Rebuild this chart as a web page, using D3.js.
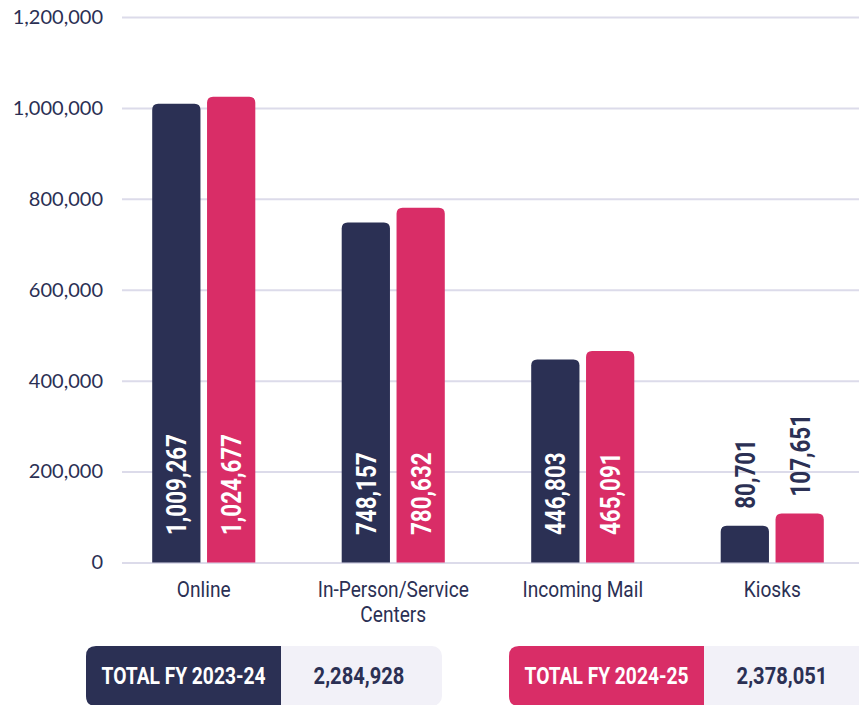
<!DOCTYPE html>
<html>
<head>
<meta charset="utf-8">
<script src="https://cdn.jsdelivr.net/npm/d3@7"></script>
<style>
  body { margin: 0; background: #fff; }
  svg { display: block; }
  .cond { font-family: Roboto, "Liberation Sans", sans-serif; }
</style>
</head>
<body>
<div id="chart"></div>
<script>
var categories = ["Online", "In-Person/Service Centers", "Incoming Mail", "Kiosks"];
var seriesNames = ["FY 2023-24", "FY 2024-25"];
var fy2324 = [1009267, 748157, 446803, 80701];
var fy2425 = [1024677, 780632, 465091, 107651];
var yTicks = [0, 200000, 400000, 600000, 800000, 1000000, 1200000];
var colors = ["#2b3054", "#d92d67"];

var W = 859, H = 705;
var navy = "#2b3054";
var fmt = d3.format(",");
var squeeze = 0.8;      // narrow look for bold labels
var squeezeReg = 0.87;  // narrow look for category labels

var svg = d3.select("#chart").append("svg")
  .attr("width", W)
  .attr("height", H);

var y = d3.scaleLinear().domain([0, 1200000]).range([562.5, 17]);

var x = d3.scaleBand().domain(categories)
  .range([109, 867])
  .paddingInner(0.456)
  .paddingOuter(0.228);

var xs = d3.scaleBand().domain(seriesNames)
  .range([0, x.bandwidth()])
  .paddingInner(0.12);

// grid + y labels
var axis = svg.append("g")
  .attr("transform", "translate(122,0)")
  .call(d3.axisLeft(y).tickValues(yTicks).tickSize(-(W - 122)).tickPadding(19).tickFormat(fmt));
axis.select(".domain").remove();
axis.selectAll(".tick line").attr("stroke", "#dcdbea").attr("stroke-width", 2);
axis.selectAll(".tick text")
  .attr("fill", navy)
  .style("font-family", "Lato, sans-serif")
  .style("font-size", "20px");

var rows = categories.map(function(c, i) {
  return { cat: c, vals: [fy2324[i], fy2425[i]] };
});

function topRounded(x0, y0, w, h, r) {
  r = Math.min(r, h);
  return "M" + x0 + "," + (y0 + h) +
    "V" + (y0 + r) +
    "Q" + x0 + "," + y0 + " " + (x0 + r) + "," + y0 +
    "H" + (x0 + w - r) +
    "Q" + (x0 + w) + "," + y0 + " " + (x0 + w) + "," + (y0 + r) +
    "V" + (y0 + h) + "Z";
}

var groups = svg.selectAll(".grp")
  .data(rows)
  .enter().append("g")
  .attr("class", "grp")
  .attr("transform", function(d) { return "translate(" + x(d.cat) + ",0)"; });

var bars = groups.selectAll(".bar")
  .data(function(d) {
    return d.vals.map(function(v, j) { return { s: seriesNames[j], v: v, j: j }; });
  })
  .enter().append("g");

bars.append("path")
  .attr("fill", function(d) { return colors[d.j]; })
  .attr("d", function(d) {
    return topRounded(xs(d.s), y(d.v), xs.bandwidth(), y(0) - y(d.v), 6);
  });

function isInside(d) { return (y(0) - y(d.v)) > 140; }

// value labels, rotated
bars.append("g")
  .attr("transform", function(d) {
    var cx = xs(d.s) + xs.bandwidth() / 2;
    var ty = isInside(d) ? 535 : y(d.v) - 17;
    return "translate(" + cx + "," + ty + ") rotate(-90) scale(" + squeeze + ",1)";
  })
  .append("text")
  .attr("class", "cond")
  .attr("dy", "0.36em")
  .attr("fill", function(d) { return isInside(d) ? "#fff" : navy; })
  .style("font-size", "28px")
  .style("font-weight", "bold")
  .text(function(d) { return fmt(d.v); });

// category labels
groups.append("g")
  .attr("transform", "translate(" + (x.bandwidth() / 2) + ",597) scale(" + squeezeReg + ",1)")
  .append("text")
  .attr("class", "cond")
  .attr("text-anchor", "middle")
  .attr("fill", navy)
  .style("font-size", "22px")
  .each(function(d) {
    var t = d3.select(this);
    var parts = d.cat === "In-Person/Service Centers" ? ["In-Person/Service", "Centers"] : [d.cat];
    parts.forEach(function(p, k) {
      t.append("tspan").attr("x", 0).attr("dy", k ? 25 : 0).text(p);
    });
  });

// totals footer
var totals = [d3.sum(fy2324), d3.sum(fy2425)];
var boxes = [
  { x: 86, w: 356, lw: 195, label: "TOTAL " + seriesNames[0], total: totals[0], c: colors[0] },
  { x: 509, w: 360, lw: 195, label: "TOTAL " + seriesNames[1], total: totals[1], c: colors[1] }
];
var bTop = 646, bH = 60;

var foot = svg.selectAll(".foot")
  .data(boxes)
  .enter().append("g")
  .attr("transform", function(d) { return "translate(" + d.x + "," + bTop + ")"; });

foot.append("rect")
  .attr("width", function(d) { return d.w; })
  .attr("height", bH)
  .attr("rx", 10)
  .attr("fill", "#f2f1f8");

foot.append("path")
  .attr("fill", function(d) { return d.c; })
  .attr("d", function(d) {
    var r = 10, w = d.lw, h = bH;
    return "M" + w + ",0H" + r + "Q0,0 0," + r + "V" + (h - r) + "Q0," + h + " " + r + "," + h + "H" + w + "Z";
  });

foot.append("g")
  .attr("transform", function(d) { return "translate(" + (d.lw / 2) + ",38) scale(" + squeeze + ",1)"; })
  .append("text")
  .attr("class", "cond")
  .attr("text-anchor", "middle")
  .attr("fill", "#fff")
  .style("font-size", "24px")
  .style("font-weight", "bold")
  .text(function(d) { return d.label; });

foot.append("g")
  .attr("transform", function(d) { return "translate(" + (d.lw + 78) + ",38) scale(0.84,1)"; })
  .append("text")
  .attr("class", "cond")
  .attr("text-anchor", "middle")
  .attr("fill", navy)
  .style("font-size", "24px")
  .style("font-weight", "bold")
  .text(function(d) { return fmt(d.total); });
</script>
</body>
</html>
